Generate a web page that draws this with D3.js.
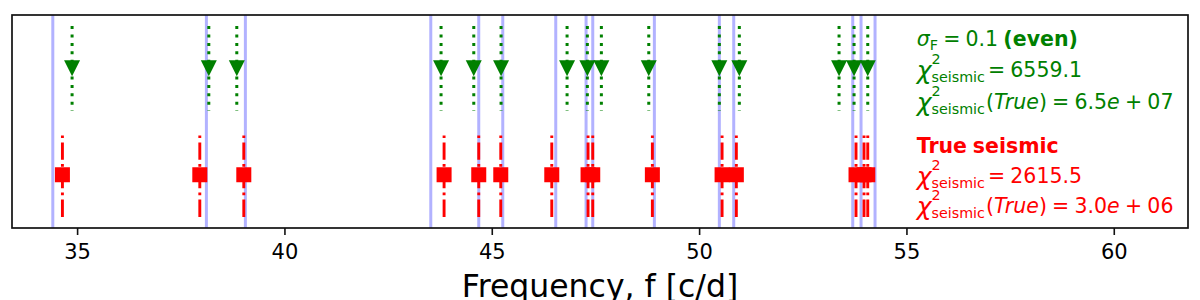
<!DOCTYPE html>
<html>
<head>
<meta charset="utf-8">
<script src="https://cdn.jsdelivr.net/npm/d3@7"></script>
<style>
  html, body { margin: 0; padding: 0; background: #fff; }
  svg { display: block; font-family: "DejaVu Sans", sans-serif; }
</style>
</head>
<body>
<svg id="chart" width="1200" height="300"></svg>
<script>
// ---- data (frequencies in c/d) ----
const observedFreqs = [34.414, 38.118, 39.058, 43.529, 44.686, 45.265, 46.543, 47.274, 47.435, 48.921, 50.488, 50.835, 53.705, 53.905, 54.243];
const evenModelFreqs = [34.879, 38.176, 38.851, 43.777, 44.566, 45.224, 46.816, 47.305, 47.643, 48.786, 50.488, 50.970, 53.375, 53.737, 54.067];
const trueSeismicFreqs = [34.646, 37.959, 39.020, 43.850, 44.686, 45.217, 46.447, 47.322, 47.435, 48.873, 50.554, 50.898, 53.784, 53.977, 54.067];
const xTicks = [35, 40, 45, 50, 55, 60];
const xDomain = [33.43, 61.79];
const xLabel = "Frequency, f [c/d]";

const GREEN = "#008000", RED = "#ff0000", BLUE = "rgb(178,178,255)";
const svg = d3.select("#chart");
const L = 12, R = 1188, T = 15, B = 228;

const x = d3.scaleLinear().domain(xDomain).range([L, R]);
const y = d3.scaleLinear().domain([0, 1]).range([B, T]);
const yGreen = 0.75, yRed = 0.25, half = 0.198;

const plot = svg.append("g");

// observed lines (blue, full height)
plot.selectAll("line.obs").data(observedFreqs).enter().append("line")
  .attr("x1", d => x(d)).attr("x2", d => x(d))
  .attr("y1", y(0)).attr("y2", y(1))
  .attr("stroke", BLUE).attr("stroke-width", 3);

// green dotted lines + triangle markers
plot.selectAll("line.even").data(evenModelFreqs).enter().append("line")
  .attr("x1", d => x(d)).attr("x2", d => x(d))
  .attr("y1", y(yGreen + half)).attr("y2", y(yGreen - half))
  .attr("stroke", GREEN).attr("stroke-width", 3)
  .attr("stroke-dasharray", "3,5.4");
const triSize = 16;
plot.selectAll("path.tri").data(evenModelFreqs).enter().append("path")
  .attr("d", d => {
    const cx = x(d), cy = y(yGreen), h = triSize / 2;
    return `M${cx - h},${cy - h}L${cx + h},${cy - h}L${cx},${cy + h}Z`;
  })
  .attr("fill", GREEN);

// red dash-dot lines + squares
plot.selectAll("line.true").data(trueSeismicFreqs).enter().append("line")
  .attr("x1", d => x(d)).attr("x2", d => x(d))
  .attr("y1", y(yRed - half)).attr("y2", y(yRed + half))
  .attr("stroke", RED).attr("stroke-width", 2.9)
  .attr("stroke-dasharray", "17.3,4.3,2.7,4.3");
const sq = 15;
plot.selectAll("rect.sq").data(trueSeismicFreqs).enter().append("rect")
  .attr("x", d => x(d) - sq / 2).attr("y", y(yRed) - sq / 2)
  .attr("width", sq).attr("height", sq)
  .attr("fill", RED);

// frame
svg.append("rect").attr("x", L).attr("y", T).attr("width", R - L).attr("height", B - T)
  .attr("fill", "none").attr("stroke", "#111").attr("stroke-width", 1.7);

// x axis
const xAxis = svg.append("g").attr("transform", `translate(0,${B})`)
  .call(d3.axisBottom(x).tickValues(xTicks).tickFormat(d3.format("d")).tickSize(7).tickSizeOuter(0));
xAxis.select(".domain").remove();
xAxis.selectAll(".tick line").attr("stroke", "#111").attr("stroke-width", 1.6);
xAxis.selectAll(".tick text").attr("dy", null).attr("y", 30.5)
  .attr("font-size", 21).attr("font-family", "DejaVu Sans").attr("fill", "#000");

svg.append("text").attr("x", (L + R) / 2).attr("y", 297)
  .attr("text-anchor", "middle").attr("font-size", 31.5).attr("fill", "#000")
  .text(xLabel);

// ---- annotation text (mathtext-like) ----
const TX = 916.7, FS = 20.5, SFS = 14.3;
function mathLine(yb, color, parts) {
  const t = svg.append("text").attr("x", TX).attr("y", yb)
    .attr("fill", color).attr("font-size", FS).attr("word-spacing", -1.3);
  let cur = 0;
  parts.forEach(p => {
    const s = t.append("tspan").text(p.text);
    if (p.italic) s.attr("font-style", "italic");
    if (p.bold) s.attr("font-weight", "bold");
    if (p.size) s.attr("font-size", p.size);
    const off = p.off || 0;
    if (off !== cur) { s.attr("dy", off - cur); cur = off; }
    if (p.dx) s.attr("dx", p.dx);
    p.node = s.node();
  });
  return { t, parts };
}
function chiPrefix() {
  return [
    { text: "χ", italic: true, size: 25, off: 1.5 },
    { text: "2", size: SFS, off: -13, tag: "sup" },
    { text: "seismic", size: SFS, off: 4.5, tag: "sub" }
  ];
}
function fixSubSup(res) {
  const sup = res.parts.find(p => p.tag === "sup");
  const sub = res.parts.find(p => p.tag === "sub");
  if (sup && sub) {
    const w = sup.node.getComputedTextLength();
    d3.select(sub.node).attr("dx", -w);
  }
}

mathLine(45.7, GREEN, [
  { text: "σ", italic: true },
  { text: "F", size: SFS, off: 4 },
  { text: " = 0.1 ", off: 0 },
  { text: "(even)", bold: true }
]);
fixSubSup(mathLine(77.3, GREEN, chiPrefix().concat([{ text: "= 6559.1", off: 0, dx: 3 }])));
fixSubSup(mathLine(109, GREEN, chiPrefix().concat([
  { text: "(", off: 0, dx: 1 }, { text: "True", italic: true }, { text: ") = 6.5" },
  { text: "e", italic: true }, { text: " + 07" }
])));
mathLine(152.7, RED, [{ text: "True seismic", bold: true }]);
fixSubSup(mathLine(183.3, RED, chiPrefix().concat([{ text: "= 2615.5", off: 0, dx: 3 }])));
fixSubSup(mathLine(213.3, RED, chiPrefix().concat([
  { text: "(", off: 0, dx: 1 }, { text: "True", italic: true }, { text: ") = 3.0" },
  { text: "e", italic: true }, { text: " + 06" }
])));
</script>
</body>
</html>
